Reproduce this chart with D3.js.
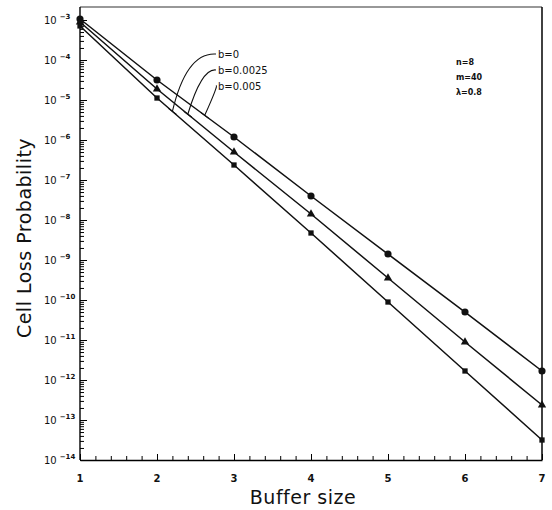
<!DOCTYPE html>
<html>
<head>
<meta charset="utf-8">
<script src="https://cdn.jsdelivr.net/npm/d3@7"></script>
<style>
  body { margin: 0; background: #fff; }
  svg { display: block; }
  text { font-family: "DejaVu Sans", sans-serif; fill: #111; }
</style>
</head>
<body>
<div id="chart"></div>
<script>
// buffer sizes and cell loss values
var bufferSizes = [1, 2, 3, 4, 5, 6, 7];
var lossB005  = [1.06e-3, 3.16e-5, 1.19e-6, 3.98e-8, 1.41e-9, 5.0e-11, 1.68e-12];  // circles
var lossB0025 = [8.9e-4, 1.88e-5, 5.0e-7, 1.41e-8, 3.55e-10, 8.9e-12, 2.37e-13];   // triangles
var lossB0    = [7.1e-4, 1.12e-5, 2.37e-7, 4.73e-9, 8.9e-11, 1.68e-12, 3.16e-14];  // squares
var seriesNames = ["b=0.005", "b=0.0025", "b=0"];
var labelNames = ["b=0", "b=0.0025", "b=0.005"];
var yExponents = [-3, -4, -5, -6, -7, -8, -9, -10, -11, -12, -13, -14];
var xTicks = [1, 2, 3, 4, 5, 6, 7];
var params = ["n=8", "m=40", "λ=0.8"];

var W = 552, H = 510;
var svg = d3.select("#chart").append("svg").attr("width", W).attr("height", H);

var x = d3.scaleLinear().domain([1, 7]).range([80, 542]);
var y = d3.scaleLog().domain([1e-14, 1e-3]).range([460, 20]);
var frameTop = 7;

var series = [
  {name: seriesNames[0], values: lossB005, shape: d3.symbolCircle, size: 40},
  {name: seriesNames[1], values: lossB0025, shape: d3.symbolTriangle, size: 30},
  {name: seriesNames[2], values: lossB0, shape: d3.symbolSquare, size: 28}
];

// frame lines (top and right)
svg.append("line").attr("x1", x(1)).attr("x2", x(7)).attr("y1", frameTop).attr("y2", frameTop)
  .style("stroke", "#333").style("stroke-width", 1.2);
svg.append("line").attr("x1", x(7)).attr("x2", x(7)).attr("y1", frameTop).attr("y2", y(1e-14))
  .style("stroke", "#111").style("stroke-width", 1.6);

// y axis, ticks pointing inward
var majorY = yExponents.map(function(e) { return Math.pow(10, e); });
var minorY = [];
yExponents.slice(1).forEach(function(e) {
  for (var k = 2; k <= 9; k++) minorY.push(k * Math.pow(10, e));
});
svg.append("g").attr("transform", "translate(" + x(1) + ",0)")
  .call(d3.axisLeft(y).tickValues(minorY).tickSize(-4).tickFormat(""))
  .call(function(g) { g.select(".domain").remove(); });
svg.append("g").attr("transform", "translate(" + x(1) + ",0)")
  .call(d3.axisLeft(y).tickValues(majorY).tickSizeInner(-7).tickSizeOuter(0).tickFormat(""))
  .call(function(g) {
    g.select(".domain").attr("d", "M0," + frameTop + "V" + y(1e-14)).style("stroke-width", 1.4);
  });

var yl = svg.append("g").selectAll("text").data(yExponents).enter().append("text")
  .attr("x", 44)
  .attr("y", function(e) { return y(Math.pow(10, e)) + 4; })
  .style("font-size", "10px");
yl.append("tspan").text("10");
yl.append("tspan").attr("dx", 3).attr("dy", -5).style("font-size", "7px").style("font-weight", "bold")
  .text(function(e) { return "−" + Math.abs(e); });

// x axis
var minorX = d3.range(1, 7.001, 0.2);
svg.append("g").attr("transform", "translate(0," + y(1e-14) + ")")
  .call(d3.axisBottom(x).tickValues(minorX).tickSize(-4).tickFormat(""))
  .call(function(g) { g.select(".domain").remove(); });
svg.append("g").attr("transform", "translate(0," + y(1e-14) + ")")
  .call(d3.axisBottom(x).tickValues(xTicks).tickSizeInner(-6).tickSizeOuter(0).tickFormat(""))
  .call(function(g) { g.select(".domain").style("stroke-width", 1.4); });

svg.append("g").selectAll("text").data(xTicks).enter().append("text")
  .attr("x", function(d) { return x(d); })
  .attr("y", 482)
  .attr("text-anchor", "middle")
  .style("font-size", "10px").style("font-weight", "bold")
  .text(function(d) { return d; });

// axis titles
svg.append("text")
  .attr("transform", "translate(31," + 238 + ") rotate(-90)")
  .attr("text-anchor", "middle")
  .style("font-size", "19px").style("letter-spacing", "0.5px")
  .text("Cell Loss Probability");
svg.append("text")
  .attr("x", 303).attr("y", 504)
  .attr("text-anchor", "middle")
  .style("font-size", "19px").style("letter-spacing", "0.5px")
  .text("Buffer size");

// lines and markers
var line = d3.line()
  .x(function(d, i) { return x(bufferSizes[i]); })
  .y(function(d) { return y(d); });

series.forEach(function(s) {
  svg.append("path").attr("d", line(s.values))
    .style("fill", "none").style("stroke", "#111").style("stroke-width", 1.5);
  svg.append("g").selectAll("path").data(s.values).enter().append("path")
    .attr("transform", function(d, i) { return "translate(" + x(bufferSizes[i]) + "," + y(d) + ")"; })
    .attr("d", d3.symbol().type(s.shape).size(s.size))
    .style("fill", "#111");
});

// leader labels: b=0 -> squares, b=0.0025 -> triangles, b=0.005 -> circles
function valueAt(values, xv) {
  var i = Math.floor(xv) - 1, t = xv - Math.floor(xv);
  var l0 = Math.log10(values[i]), l1 = Math.log10(values[i + 1]);
  return Math.pow(10, l0 + (l1 - l0) * t);
}
var leaders = [
  {label: labelNames[0], values: lossB0, at: 2.2, ly: 58},
  {label: labelNames[1], values: lossB0025, at: 2.4, ly: 74},
  {label: labelNames[2], values: lossB005, at: 2.62, ly: 90}
];
leaders.forEach(function(l) {
  var ax = x(l.at), ay = y(valueAt(l.values, l.at));
  var sx = 216, sy = l.ly - 4;
  svg.append("path")
    .attr("d", "M" + sx + "," + sy + " Q" + (ax + 14) + "," + (sy - 2) + " " + ax + "," + ay)
    .style("fill", "none").style("stroke", "#111").style("stroke-width", 1.1);
  svg.append("line")
    .attr("x1", ax - 4).attr("y1", ay - 3).attr("x2", ax + 4).attr("y2", ay + 3)
    .style("stroke", "#111").style("stroke-width", 1.1);
  svg.append("text").attr("x", 218).attr("y", l.ly)
    .style("font-size", "10px")
    .text(l.label);
});

// parameter block
svg.append("g").selectAll("text").data(params).enter().append("text")
  .attr("x", 456)
  .attr("y", function(d, i) { return 65 + i * 15; })
  .style("font-size", "8px").style("font-weight", "bold")
  .text(function(d) { return d; });
</script>
</body>
</html>
